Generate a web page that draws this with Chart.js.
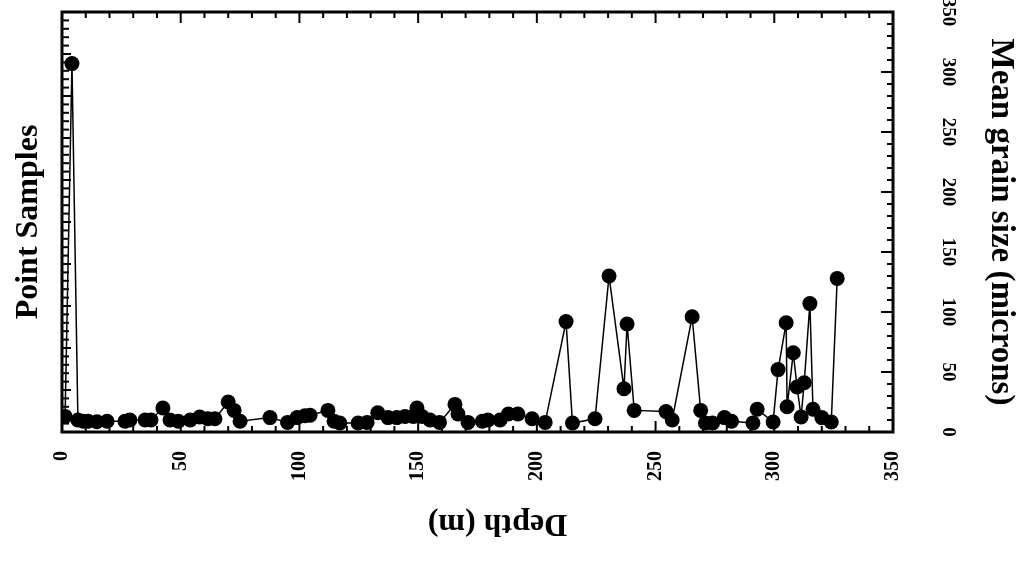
<!DOCTYPE html>
<html>
<head>
<meta charset="utf-8">
<script src="https://cdn.jsdelivr.net/npm/chart.js@4/dist/chart.umd.min.js"></script>
<style>
  html, body { margin: 0; padding: 0; background: #fff; }
  #wrap { width: 1021px; height: 561px; }
</style>
</head>
<body>
<div id="wrap"><canvas id="grainChart" width="1021" height="561"></canvas></div>
<script>
// depth of each point sample (m) and its mean grain size (microns)
const depth = [1.3, 4.2, 6.7, 9, 11, 14.7, 19, 26.5, 28.6, 35, 37.5, 42.5, 45.5, 49, 54, 58, 61.4, 64.4, 70, 72.5,
  75, 87.6, 95, 99, 102.3, 104.5, 112, 114.6, 117, 124.7, 128.5, 133, 137.3, 141, 144.5, 148, 149.5, 151.6, 155, 159,
  165.5, 166.8, 171, 177, 179.4, 184.5, 188, 192, 198, 203.5, 212.3, 215, 224.5, 230.4, 236.7, 238, 241, 254.4, 257, 265.4,
  269, 271, 274, 279, 282, 291, 292.8, 299.5, 301.6, 305, 305.4, 308, 309.6, 311.3, 312.6, 315, 316.3, 320, 324, 326.5];
const grainSize = [13, 307, 10, 9, 9, 8.5, 9, 9, 10, 10, 10, 20, 10, 9, 10, 12.5, 11, 11, 25, 18,
  9, 12, 8, 12, 13.5, 14, 18, 9, 7.5, 7.5, 8, 16, 12, 12, 13, 13, 20, 13, 10, 8,
  23, 15, 8, 9, 10, 10, 15, 15, 11, 8, 92, 7.5, 11, 130, 36, 90, 18, 17, 10, 96,
  18, 7.5, 7.5, 12, 9, 7.5, 19, 8.3, 52, 91, 21, 66, 37.5, 12.5, 41, 107, 19, 12, 8.3, 128];

const depthTicks = [0, 50, 100, 150, 200, 250, 300, 350];
const grainTicks = [0, 50, 100, 150, 200, 250, 300, 350];

const serifBold = (size) => ({ family: '"Liberation Serif", "DejaVu Serif", serif', weight: 'bold', size: size });

// frame, inward tick marks, rotated right-hand labels and the upside-down depth title
const framePlugin = {
    id: 'frame',
    afterDraw(chart) {
        const ctx = chart.ctx;
        const area = chart.chartArea;
        const xs = chart.scales.x;
        const ys = chart.scales.y;
        const ls = chart.scales.yLeft;
        ctx.save();
        ctx.strokeStyle = '#000';
        ctx.lineWidth = 2;

        // depth ticks, top and bottom
        for (let v = 0; v <= 350; v += 10) {
            const px = xs.getPixelForValue(v);
            const len = v % 50 === 0 ? 11 : 6;
            ctx.beginPath();
            ctx.moveTo(px, area.bottom); ctx.lineTo(px, area.bottom - len);
            ctx.moveTo(px, area.top); ctx.lineTo(px, area.top + len);
            ctx.stroke();
        }
        // grain size ticks on the right
        for (let v = 0; v <= 350; v += 10) {
            const py = ys.getPixelForValue(v);
            const len = v % 50 === 0 ? 12 : 6;
            ctx.beginPath();
            ctx.moveTo(area.right, py); ctx.lineTo(area.right - len, py);
            ctx.stroke();
        }
        // sample count ticks on the left
        for (let v = 0; v <= 50; v += 1) {
            const py = ls.getPixelForValue(v);
            const len = v % 5 === 0 ? 9 : 7;
            ctx.beginPath();
            ctx.moveTo(area.left, py); ctx.lineTo(area.left + len, py);
            ctx.stroke();
        }

        ctx.lineWidth = 3;
        ctx.strokeRect(area.left, area.top, area.right - area.left, area.bottom - area.top);

        // right axis labels read top to bottom
        ctx.fillStyle = '#000';
        ctx.font = 'bold 19px "Liberation Serif", "DejaVu Serif", serif';
        ctx.textAlign = 'center';
        ctx.textBaseline = 'middle';
        grainTicks.forEach(v => {
            ctx.save();
            ctx.translate(area.right + 55, ys.getPixelForValue(v));
            ctx.rotate(Math.PI / 2);
            ctx.fillText(String(v), 0, 0);
            ctx.restore();
        });

        // depth title, turned upside down
        ctx.font = 'bold 32px "Liberation Serif", "DejaVu Serif", serif';
        ctx.save();
        ctx.translate((area.left + area.right) / 2 + 20, area.bottom + 91);
        ctx.rotate(Math.PI);
        ctx.fillText('Depth (m)', 0, 0);
        ctx.restore();
        ctx.restore();
    }
};

const ctx = document.getElementById('grainChart').getContext('2d');
const chart = new Chart(ctx, {
    type: 'line',
    data: {
        datasets: [{
            label: 'Mean grain size',
            data: depth.map((d, i) => ({ x: d, y: grainSize[i] })),
            borderColor: '#000',
            backgroundColor: '#000',
            borderWidth: 1.5,
            pointRadius: 7.5,
            pointBorderWidth: 0,
            pointBackgroundColor: '#000',
            tension: 0,
            yAxisID: 'y'
        }]
    },
    options: {
        responsive: false,
        animation: false,
        layout: { padding: { top: 12, left: 0, right: 0, bottom: 0 } },
        plugins: { legend: { display: false }, tooltip: { enabled: false } },
        scales: {
            x: {
                type: 'linear',
                position: 'bottom',
                min: 0,
                max: 350,
                afterBuildTicks: (scale) => { scale.ticks = depthTicks.map(v => ({ value: v })); },
                ticks: { minRotation: 90, maxRotation: 90, color: '#000', font: serifBold(20), padding: 11 },
                grid: { display: false },
                border: { display: false },
                afterFit: (scale) => { scale.height = 129; }
            },
            y: {
                type: 'linear',
                position: 'right',
                min: 0,
                max: 350,
                ticks: { display: false },
                grid: { display: false },
                border: { display: false },
                title: {
                    display: true,
                    text: 'Mean grain size (microns)',
                    color: '#000',
                    font: serifBold(33),
                    padding: { top: 1, bottom: 0 }
                },
                afterFit: (scale) => { scale.width = 128; }
            },
            yLeft: {
                type: 'linear',
                position: 'left',
                min: 0,
                max: 50,
                ticks: { display: false },
                grid: { display: false },
                border: { display: false },
                title: {
                    display: true,
                    text: 'Point Samples',
                    color: '#000',
                    font: serifBold(32),
                    padding: { top: 10, bottom: 0 }
                },
                afterFit: (scale) => { scale.width = 62; }
            }
        }
    },
    plugins: [framePlugin]
});
</script>
</body>
</html>
